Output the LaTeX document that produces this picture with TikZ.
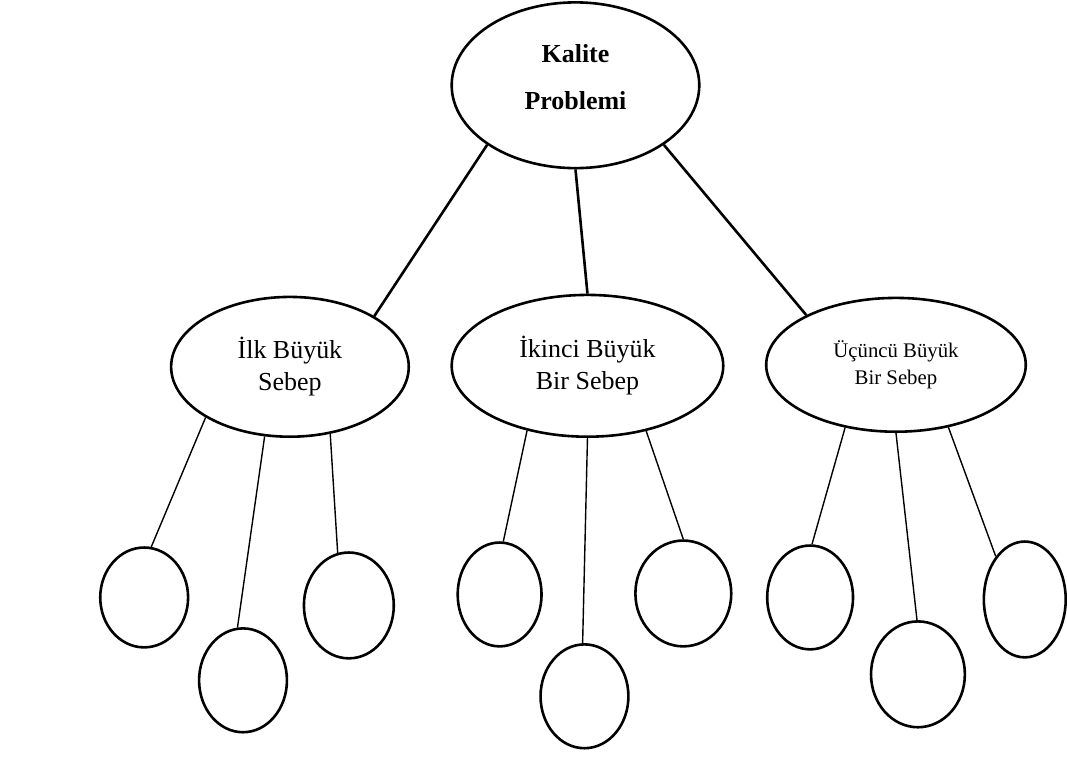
\documentclass[tikz,border=0pt]{standalone}
\usepackage{fontspec}
\setmainfont{Liberation Serif}
\usetikzlibrary{shapes.geometric}
\tikzset{
  cause/.style={ellipse,draw,line width=1.3pt,inner sep=0pt,align=center},
  leaf/.style={ellipse,draw,line width=1.3pt,inner sep=0pt},
  thickline/.style={line width=1.3pt},
  thinline/.style={line width=0.7pt}
}

\begin{document}
\begin{tikzpicture}[x=0.5pt,y=-0.5pt]
\filldraw[color=white] (0,0) rectangle (1067,757);
% Drawing the problem
\node[cause,minimum width=124pt,minimum height=83pt,
  label={[font=\fontsize{13}{23.5}\selectfont\bfseries,align=center,yshift=4.25pt]center:Kalite\\Problemi}] (kalite) at (576,85) {};
% Drawing the causes
\node[cause,font=\fontsize{13}{16}\selectfont,minimum width=119pt,minimum height=70pt] (ilk) at (290,367) {İlk Büyük\\Sebep};
\node[cause,font=\fontsize{13}{16}\selectfont,minimum width=136pt,minimum height=71pt] (ikinci) at (588,366) {İkinci Büyük\\Bir Sebep};
\node[cause,font=\fontsize{10.4}{13.5}\selectfont,minimum width=130pt,minimum height=67pt] (ucuncu) at (897,365) {Üçüncü Büyük\\Bir Sebep};
% Done with causes; drawing sub causes
% Under ilk
\node[leaf,minimum width=44pt,minimum height=50pt] (ilk1) at (144,598) {};
\node[leaf,minimum width=44pt,minimum height=52pt] (ilk2) at (243,681) {};
\node[leaf,minimum width=45pt,minimum height=53pt] (ilk3) at (349,606) {};
% Under ikinci
\node[leaf,minimum width=42pt,minimum height=52pt] (ikinci1) at (500,595) {};
\node[leaf,minimum width=44pt,minimum height=52pt] (ikinci2) at (585,697) {};
\node[leaf,minimum width=48pt,minimum height=53pt] (ikinci3) at (684,594) {};
% Under ucuncu
\node[leaf,minimum width=43pt,minimum height=52pt] (ucuncu1) at (811,598) {};
\node[leaf,minimum width=47pt,minimum height=53pt] (ucuncu2) at (919,675) {};
\node[leaf,minimum width=41pt,minimum height=58pt] (ucuncu3) at (1026,600) {};
% Done with sub causes; drawing lines
\draw[thickline] (kalite.214) -- (ilk.31);
\draw[thickline] (kalite.270) -- (ikinci.90);
\draw[thickline] (kalite.326) -- (ucuncu.151);
\draw[thinline] (ilk.211) -- (ilk1.82);
\draw[thinline] (ilk.250) -- (ilk2.96);
\draw[thinline] (ilk.301) -- (ilk3.102);
\draw[thinline] (ikinci.227) -- (ikinci1.86);
\draw[thinline] (ikinci.270) -- (ikinci2.92);
\draw[thinline] (ikinci.312) -- (ikinci3.90);
\draw[thinline] (ucuncu.231) -- (ucuncu1.88);
\draw[thinline] (ucuncu.270) -- (ucuncu2.91);
\draw[thinline] (ucuncu.310) -- (ucuncu3.124);
% Done with lines
\end{tikzpicture}
\end{document}
